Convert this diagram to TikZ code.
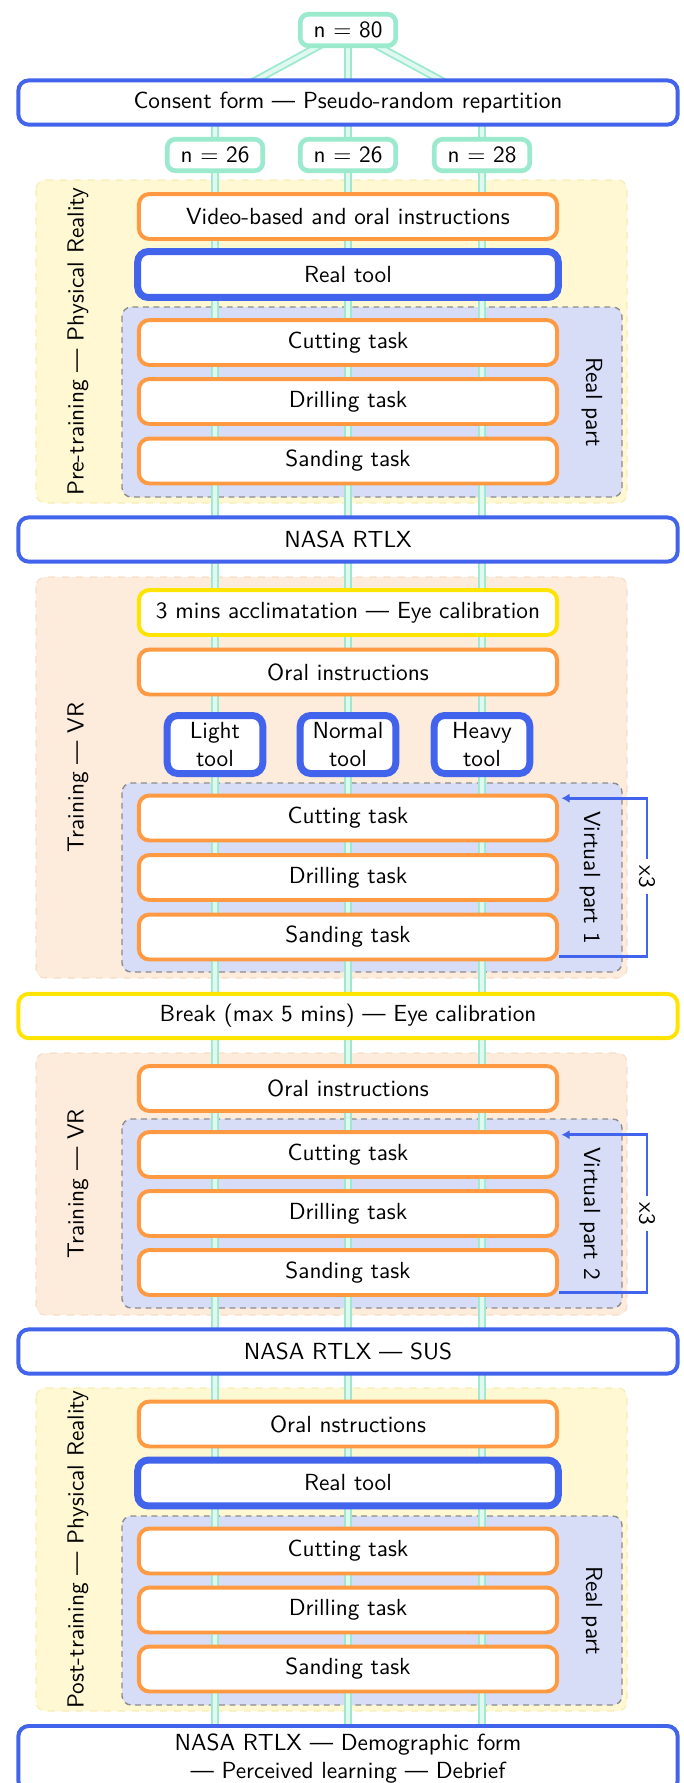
\documentclass[tikz,border=0pt]{standalone}
\usepackage{fontspec}
\usetikzlibrary{arrows.meta}
\pgfdeclarelayer{back}
\pgfdeclarelayer{mid}
\pgfsetlayers{back,mid,main}
\definecolor{mint}{RGB}{155,234,206}
\definecolor{mintin}{RGB}{224,248,240}
\definecolor{myblue}{RGB}{66,99,235}
\definecolor{myorange}{RGB}{255,154,66}
\definecolor{myyellow}{RGB}{255,228,0}
\definecolor{grpY}{RGB}{255,248,210}
\definecolor{grpYd}{RGB}{248,236,180}
\definecolor{grpP}{RGB}{253,235,220}
\definecolor{grpPd}{RGB}{246,222,200}
\definecolor{lav}{RGB}{215,221,247}
\tikzset{
  pipe/.style={draw=mint, double=mintin, line width=0.8pt, double distance=1.8pt},
  nbox/.style={draw=mint, line width=2pt, rounded corners=3.5pt, fill=white, minimum width=41pt, minimum height=13.5pt, inner sep=2pt},
  wide/.style={draw=myblue, line width=1.7pt, rounded corners=4.5pt, fill=white, minimum width=283pt, minimum height=19pt},
  widecalib/.style={wide, draw=myyellow},
  task/.style={draw=myorange, line width=1.7pt, rounded corners=4.5pt, fill=white, minimum width=179.5pt, minimum height=19.3pt},
  calib/.style={task, draw=myyellow},
  realtool/.style={draw=myblue, line width=3pt, rounded corners=4.5pt, fill=white, minimum width=180.5pt, minimum height=19.7pt},
  vtool/.style={draw=myblue, line width=3pt, rounded corners=4.5pt, fill=white, minimum width=41pt, minimum height=24.9pt, align=center, inner sep=2pt},
  grpyel/.style={fill=grpY, draw=grpYd, dashed, rounded corners=4pt, line width=0.5pt},
  grppch/.style={fill=grpP, draw=grpPd, dashed, rounded corners=4pt, line width=0.5pt},
  partbox/.style={fill=lav, draw=black!45, dash pattern=on 2.5pt off 2pt, rounded corners=4pt, line width=0.6pt},
  lbl/.style={inner sep=0pt},
  loopar/.style={draw=myblue, line width=1.2pt, -{Latex[length=3.5pt,width=4pt]}},
  rep/.style={fill=white, inner sep=2.5pt}
}
\begin{document}
\begin{tikzpicture}[x=0.42918pt, y=-0.42918pt, font=\sffamily]
\useasboundingbox (0,0) rectangle (683,1783);

\begin{pgfonlayer}{back}
\draw[grpyel] (36,180) rectangle (627,503);
\draw[partbox] (122,307) rectangle (622,497);
\draw[grppch] (36,577) rectangle (627,978);
\draw[partbox] (122,783) rectangle (622,972);
\draw[grppch] (36,1053) rectangle (627,1315);
\draw[partbox] (122,1119) rectangle (622,1308);
\draw[grpyel] (36,1388) rectangle (627,1711);
\draw[partbox] (122,1516) rectangle (622,1705);
\end{pgfonlayer}

\node[nbox] (n80) at (348,30) {n = 80};
\node[wide] (consent) at (348,102.5) {Consent form — Pseudo-random repartition};
\node[nbox] (nA) at (215,155) {n = 26};
\node[nbox] (nB) at (348,155) {n = 26};
\node[nbox] (nC) at (482,155) {n = 28};

\node[task] (video) at (348,216.5) {Video-based and oral instructions};
\node[realtool] (real1) at (348,274.5) {Real tool};
\node[task] (cut1) at (348,342.5) {Cutting task};
\node[task] (drill1) at (348,401.5) {Drilling task};
\node[task] (sand1) at (348,461) {Sanding task};
\node[lbl, rotate=-90] (rp1) at (592,402) {Real part};
\node[lbl, rotate=90] (g1) at (78,341.5) {Pre-training — Physical Reality};

\node[wide] (nasa) at (348,539.5) {NASA RTLX};

\node[calib] (accl) at (348,612.5) {3 mins acclimatation — Eye calibration};
\node[task] (oral1) at (348,672) {Oral instructions};
\node[vtool] (light) at (215,744.5) {Light\\tool};
\node[vtool] (normal) at (348,744.5) {Normal\\tool};
\node[vtool] (heavy) at (482,744.5) {Heavy\\tool};
\node[task] (cut2) at (348,818) {Cutting task};
\node[task] (drill2) at (348,877.5) {Drilling task};
\node[task] (sand2) at (348,937) {Sanding task};
\node[lbl, rotate=-90] (vp1) at (590,877.5) {Virtual part 1};
\node[lbl, rotate=90] (g2) at (78,777.5) {Training — VR};

\node[widecalib] (break) at (348,1016) {Break (max 5 mins) — Eye calibration};

\node[task] (oral2) at (348,1088.5) {Oral instructions};
\node[task] (cut3) at (348,1154.5) {Cutting task};
\node[task] (drill3) at (348,1213.5) {Drilling task};
\node[task] (sand3) at (348,1272.5) {Sanding task};
\node[lbl, rotate=-90] (vp2) at (590,1213.5) {Virtual part 2};
\node[lbl, rotate=90] (g3) at (78,1184) {Training — VR};

\node[wide] (sus) at (348,1351.5) {NASA RTLX — SUS};

\node[task] (oral3) at (348,1424) {Oral nstructions};
\node[realtool] (real3) at (348,1483) {Real tool};
\node[task] (cut4) at (348,1551) {Cutting task};
\node[task] (drill4) at (348,1610) {Drilling task};
\node[task] (sand4) at (348,1669) {Sanding task};
\node[lbl, rotate=-90] (rp2) at (592,1610.5) {Real part};
\node[lbl, rotate=90] (g4) at (78,1549.5) {Post-training — Physical Reality};

\node[wide, anchor=north, align=center] (final) at (348,1724) {NASA RTLX — Demographic form\\— Perceived learning — Debrief};

\begin{pgfonlayer}{mid}
\draw[pipe] (n80.center) -- (consent.center -| nA) -- (final.center -| nA);
\draw[pipe] (n80.center) -- (final.center);
\draw[pipe] (n80.center) -- (consent.center -| nC) -- (final.center -| nC);
\end{pgfonlayer}

\coordinate (l1) at (647,876.5);
\coordinate (l2) at (647,1213.5);
\draw[loopar] ([yshift=2pt]sand2.south east) -| (l1) |- ([xshift=1pt,yshift=-2pt]cut2.north east);
\draw[loopar] ([yshift=2pt]sand3.south east) -| (l2) |- ([xshift=1pt,yshift=-2pt]cut3.north east);
\node[rep, rotate=-90] (x3a) at (l1) {x3};
\node[rep, rotate=-90] (x3b) at (l2) {x3};
\end{tikzpicture}
\end{document}
